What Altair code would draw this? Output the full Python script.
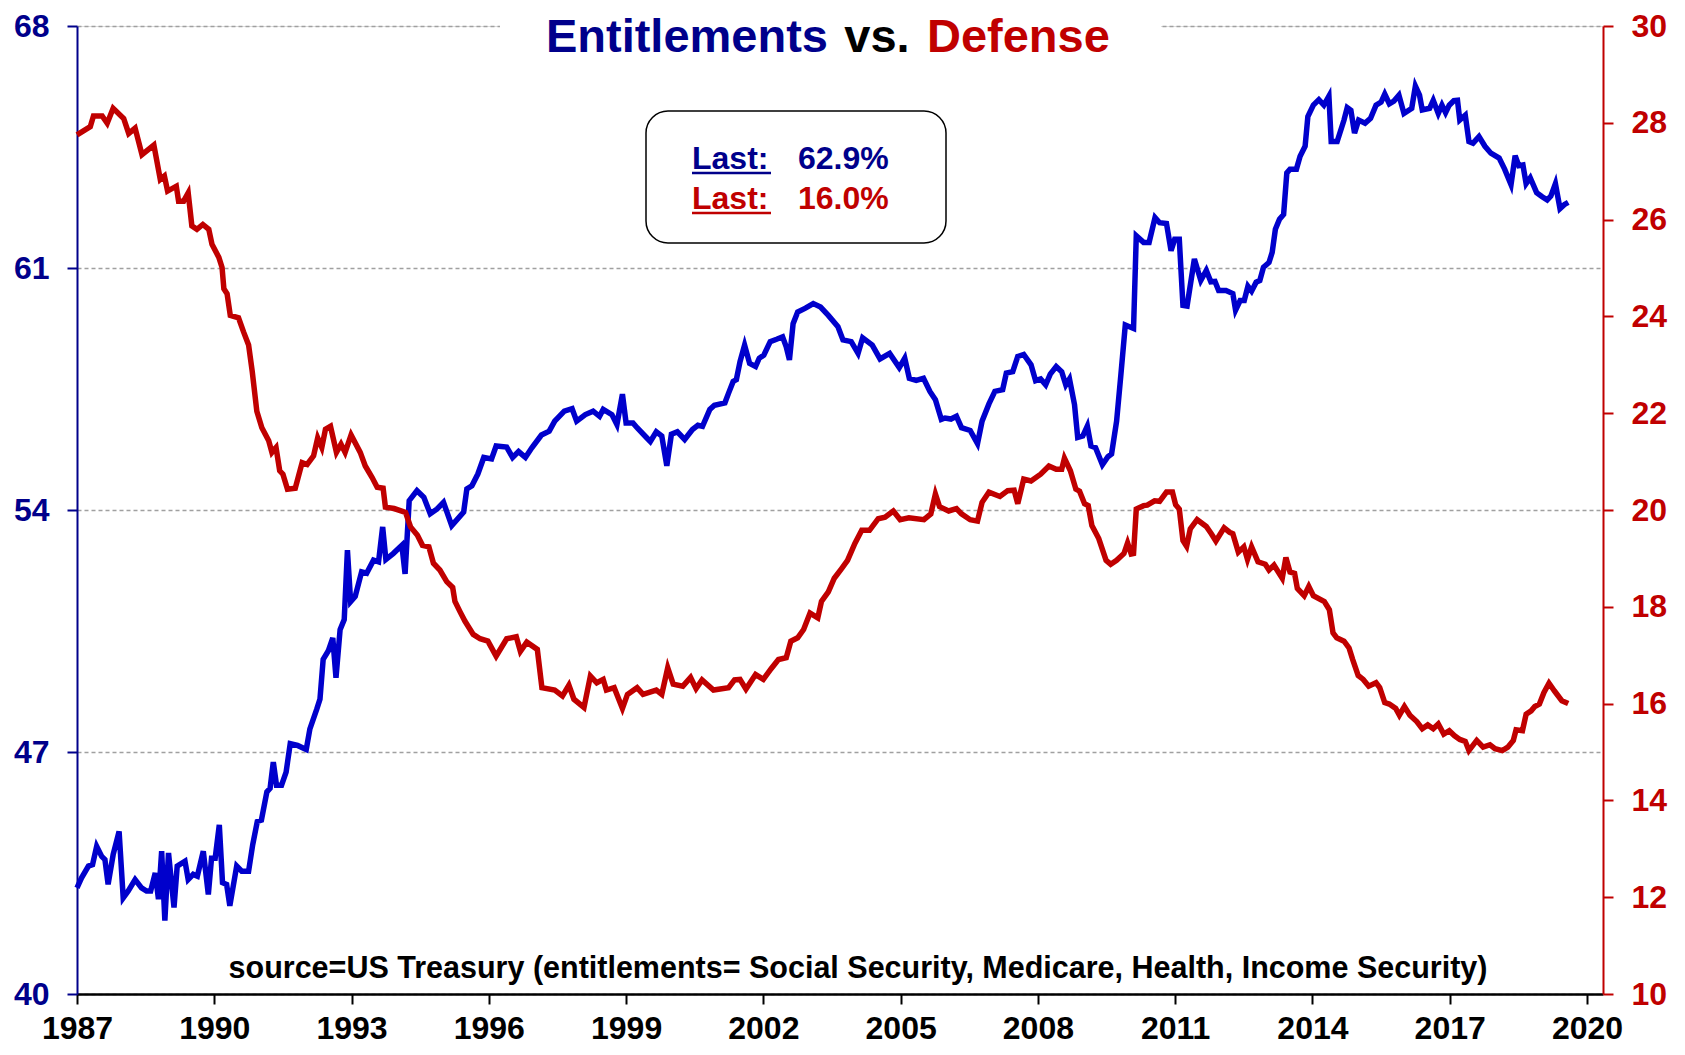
import altair as alt
import pandas as pd

# ---------------- data ----------------
ent_year = [1987.00, 1987.10, 1987.25, 1987.34, 1987.43, 1987.54, 1987.61, 1987.68, 1987.79, 1987.92,
            1988.01, 1988.12, 1988.27, 1988.41, 1988.52, 1988.61, 1988.71, 1988.78, 1988.85, 1988.92,
            1989.00, 1989.12, 1989.19, 1989.36, 1989.43, 1989.54, 1989.63, 1989.76, 1989.87, 1989.94,
            1990.02, 1990.11, 1990.18, 1990.27, 1990.34, 1990.49, 1990.60, 1990.75, 1990.84, 1990.94,
            1991.03, 1991.15, 1991.22, 1991.29, 1991.36, 1991.47, 1991.57, 1991.66, 1991.82, 1992.01,
            1992.09, 1992.24, 1992.31, 1992.38, 1992.49, 1992.59, 1992.66, 1992.75, 1992.84, 1992.91,
            1992.98, 1993.08, 1993.22, 1993.33, 1993.48, 1993.59, 1993.68, 1993.75, 1993.91, 1994.10,
            1994.17, 1994.26, 1994.43, 1994.58, 1994.72, 1994.87, 1995.01, 1995.19, 1995.45, 1995.52,
            1995.63, 1995.76, 1995.89, 1996.06, 1996.16, 1996.39, 1996.52, 1996.65, 1996.80, 1996.94,
            1997.15, 1997.32, 1997.44, 1997.65, 1997.82, 1997.92, 1998.11, 1998.28, 1998.42, 1998.50,
            1998.69, 1998.80, 1998.92, 1999.00, 1999.15, 1999.24, 1999.45, 1999.53, 1999.66, 1999.78,
            1999.89, 1999.99, 2000.12, 2000.28, 2000.45, 2000.57, 2000.67, 2000.83, 2000.93, 2001.16,
            2001.24, 2001.34, 2001.41, 2001.49, 2001.59, 2001.70, 2001.83, 2001.91, 2002.01, 2002.15,
            2002.29, 2002.42, 2002.50, 2002.57, 2002.65, 2002.75, 2002.92, 2003.09, 2003.25, 2003.42,
            2003.63, 2003.74, 2003.92, 2004.07, 2004.17, 2004.38, 2004.55, 2004.76, 2004.97, 2005.09,
            2005.19, 2005.34, 2005.50, 2005.64, 2005.76, 2005.89, 2005.97, 2006.10, 2006.22, 2006.33,
            2006.52, 2006.68, 2006.78, 2006.93, 2007.06, 2007.23, 2007.31, 2007.45, 2007.56, 2007.69,
            2007.85, 2007.95, 2008.06, 2008.17, 2008.27, 2008.40, 2008.52, 2008.61, 2008.69, 2008.80,
            2008.87, 2008.98, 2009.08, 2009.16, 2009.26, 2009.41, 2009.53, 2009.61, 2009.72, 2009.81,
            2009.91, 2010.09, 2010.15, 2010.31, 2010.43, 2010.56, 2010.66, 2010.81, 2010.91, 2010.99,
            2011.09, 2011.17, 2011.26, 2011.42, 2011.56, 2011.68, 2011.78, 2011.87, 2011.95, 2012.11,
            2012.26, 2012.32, 2012.42, 2012.51, 2012.59, 2012.67, 2012.77, 2012.85, 2012.93, 2013.05,
            2013.12, 2013.19, 2013.28, 2013.37, 2013.44, 2013.51, 2013.65, 2013.73, 2013.84, 2013.90,
            2014.02, 2014.14, 2014.25, 2014.36, 2014.41, 2014.54, 2014.69, 2014.76, 2014.84, 2014.92,
            2015.01, 2015.15, 2015.27, 2015.39, 2015.50, 2015.58, 2015.68, 2015.78, 2015.89, 2016.00,
            2016.17, 2016.25, 2016.34, 2016.40, 2016.56, 2016.64, 2016.75, 2016.83, 2016.91, 2016.99,
            2017.09, 2017.17, 2017.22, 2017.34, 2017.42, 2017.51, 2017.64, 2017.77, 2017.90, 2018.08,
            2018.20, 2018.34, 2018.43, 2018.51, 2018.60, 2018.67, 2018.76, 2018.90, 2019.02, 2019.13,
            2019.21, 2019.31, 2019.41, 2019.51, 2019.59]
ent_val = [43.07, 43.36, 43.70, 43.74, 44.27, 43.98, 43.89, 43.17, 44.03, 44.70,
           42.78, 42.98, 43.31, 43.07, 42.98, 42.98, 43.50, 42.74, 44.13, 42.12,
           44.08, 42.50, 43.70, 43.84, 43.31, 43.46, 43.41, 44.13, 42.88, 43.93,
           43.93, 44.89, 43.22, 43.17, 42.55, 43.70, 43.55, 43.55, 44.32, 44.99,
           45.03, 45.85, 45.95, 46.71, 46.04, 46.04, 46.42, 47.24, 47.19, 47.07,
           47.67, 48.24, 48.53, 49.68, 49.92, 50.30, 49.15, 50.54, 50.83, 52.84,
           51.35, 51.50, 52.21, 52.17, 52.55, 52.50, 53.51, 52.57, 52.74, 52.98,
           52.15, 54.27, 54.56, 54.37, 53.89, 54.03, 54.22, 53.55, 53.94, 54.61,
           54.70, 55.04, 55.52, 55.48, 55.85, 55.82, 55.52, 55.69, 55.52, 55.80,
           56.17, 56.28, 56.57, 56.86, 56.93, 56.57, 56.76, 56.86, 56.71, 56.91,
           56.76, 56.47, 57.35, 56.52, 56.52, 56.38, 56.09, 55.98, 56.26, 56.14,
           55.28, 56.19, 56.26, 56.04, 56.33, 56.45, 56.42, 56.91, 57.03, 57.10,
           57.38, 57.72, 57.77, 58.29, 58.77, 58.24, 58.15, 58.39, 58.48, 58.87,
           58.94, 59.01, 58.72, 58.34, 59.39, 59.73, 59.84, 59.97, 59.87, 59.63,
           59.30, 58.92, 58.87, 58.53, 58.98, 58.77, 58.37, 58.53, 58.12, 58.39,
           57.81, 57.75, 57.81, 57.43, 57.19, 56.62, 56.66, 56.63, 56.71, 56.38,
           56.30, 55.92, 56.57, 57.07, 57.43, 57.48, 57.96, 58.00, 58.44, 58.50,
           58.20, 57.74, 57.79, 57.62, 57.93, 58.15, 58.00, 57.62, 57.79, 57.05,
           56.10, 56.14, 56.43, 55.85, 55.80, 55.31, 55.54, 55.62, 56.57, 57.86,
           59.35, 59.25, 61.93, 61.74, 61.74, 62.46, 62.31, 62.29, 61.50, 61.83,
           61.83, 59.92, 59.90, 61.26, 60.64, 60.93, 60.60, 60.61, 60.35, 60.35,
           60.26, 59.78, 60.06, 60.06, 60.47, 60.33, 60.59, 60.64, 61.02, 61.16,
           61.45, 62.12, 62.41, 62.55, 63.75, 63.86, 63.86, 64.23, 64.52, 65.38,
           65.71, 65.87, 65.71, 65.97, 64.66, 64.66, 65.28, 65.64, 65.56, 64.90,
           65.28, 65.19, 65.33, 65.71, 65.80, 66.03, 65.75, 65.83, 66.00, 65.47,
           65.62, 66.26, 66.00, 65.57, 65.62, 65.85, 65.47, 65.71, 65.49, 65.71,
           65.84, 65.85, 65.28, 65.42, 64.66, 64.61, 64.80, 64.52, 64.32, 64.18,
           63.86, 63.41, 64.25, 63.96, 63.98, 63.44, 63.61, 63.18, 63.06, 62.97,
           63.08, 63.44, 62.72, 62.84, 62.90]

def_year = [1987.00, 1987.29, 1987.36, 1987.55, 1987.66, 1987.79, 1988.02, 1988.13, 1988.27, 1988.42,
            1988.68, 1988.82, 1988.91, 1988.98, 1989.17, 1989.22, 1989.33, 1989.43, 1989.51, 1989.62,
            1989.75, 1989.88, 1989.95, 1990.10, 1990.17, 1990.21, 1990.28, 1990.35, 1990.53, 1990.64,
            1990.75, 1990.83, 1990.93, 1991.04, 1991.19, 1991.26, 1991.35, 1991.43, 1991.50, 1991.60,
            1991.77, 1991.92, 1992.03, 1992.17, 1992.26, 1992.35, 1992.43, 1992.54, 1992.67, 1992.77,
            1992.86, 1992.99, 1993.19, 1993.30, 1993.45, 1993.56, 1993.69, 1993.74, 1993.93, 1994.18,
            1994.29, 1994.44, 1994.55, 1994.69, 1994.79, 1994.93, 1995.08, 1995.21, 1995.26, 1995.37,
            1995.48, 1995.66, 1995.81, 1995.98, 1996.16, 1996.39, 1996.60, 1996.69, 1996.83, 1997.06,
            1997.16, 1997.44, 1997.61, 1997.75, 1997.86, 1998.08, 1998.22, 1998.36, 1998.50, 1998.57,
            1998.74, 1998.92, 1999.03, 1999.24, 1999.37, 1999.66, 1999.78, 1999.91, 2000.03, 2000.24,
            2000.41, 2000.53, 2000.66, 2000.91, 2001.24, 2001.37, 2001.49, 2001.62, 2001.83, 2002.00,
            2002.17, 2002.33, 2002.50, 2002.60, 2002.75, 2002.88, 2003.02, 2003.19, 2003.27, 2003.42,
            2003.55, 2003.71, 2003.84, 2004.00, 2004.15, 2004.32, 2004.51, 2004.66, 2004.84, 2004.99,
            2005.18, 2005.51, 2005.66, 2005.76, 2005.85, 2006.05, 2006.22, 2006.33, 2006.52, 2006.68,
            2006.78, 2006.93, 2007.17, 2007.34, 2007.48, 2007.56, 2007.69, 2007.85, 2008.06, 2008.24,
            2008.40, 2008.52, 2008.58, 2008.71, 2008.83, 2008.91, 2009.02, 2009.10, 2009.18, 2009.33,
            2009.49, 2009.59, 2009.72, 2009.88, 2009.96, 2010.04, 2010.09, 2010.15, 2010.31, 2010.39,
            2010.55, 2010.66, 2010.81, 2010.94, 2011.01, 2011.09, 2011.17, 2011.25, 2011.33, 2011.48,
            2011.68, 2011.79, 2011.89, 2012.07, 2012.19, 2012.26, 2012.38, 2012.50, 2012.58, 2012.67,
            2012.81, 2012.97, 2013.05, 2013.16, 2013.24, 2013.34, 2013.42, 2013.51, 2013.61, 2013.67,
            2013.82, 2013.92, 2014.02, 2014.26, 2014.37, 2014.45, 2014.53, 2014.69, 2014.80, 2014.88,
            2015.00, 2015.11, 2015.23, 2015.39, 2015.47, 2015.58, 2015.68, 2015.82, 2015.90, 2016.01,
            2016.13, 2016.28, 2016.40, 2016.52, 2016.64, 2016.75, 2016.87, 2016.99, 2017.10, 2017.22,
            2017.34, 2017.42, 2017.59, 2017.73, 2017.88, 2017.99, 2018.15, 2018.27, 2018.39, 2018.45,
            2018.59, 2018.67, 2018.78, 2018.86, 2018.96, 2019.06, 2019.17, 2019.29, 2019.45, 2019.59]
def_val = [27.75, 27.92, 28.14, 28.14, 27.99, 28.30, 28.09, 27.78, 27.89, 27.34,
           27.54, 26.83, 26.90, 26.59, 26.69, 26.38, 26.38, 26.55, 25.87, 25.80,
           25.90, 25.80, 25.49, 25.22, 25.01, 24.57, 24.47, 24.02, 23.97, 23.68,
           23.41, 22.86, 22.04, 21.70, 21.43, 21.19, 21.29, 20.81, 20.74, 20.43,
           20.45, 20.98, 20.94, 21.12, 21.49, 21.29, 21.67, 21.73, 21.19, 21.36,
           21.19, 21.55, 21.19, 20.91, 20.67, 20.47, 20.45, 20.06, 20.03, 19.95,
           19.65, 19.48, 19.27, 19.24, 18.90, 18.76, 18.52, 18.40, 18.11, 17.90,
           17.70, 17.43, 17.34, 17.29, 16.98, 17.34, 17.38, 17.08, 17.27, 17.12,
           16.33, 16.28, 16.16, 16.38, 16.09, 15.92, 16.57, 16.43, 16.50, 16.28,
           16.33, 15.90, 16.19, 16.33, 16.19, 16.28, 16.19, 16.74, 16.40, 16.36,
           16.54, 16.31, 16.49, 16.28, 16.33, 16.49, 16.50, 16.30, 16.60, 16.50,
           16.72, 16.91, 16.95, 17.29, 17.36, 17.53, 17.87, 17.77, 18.11, 18.31,
           18.59, 18.79, 18.96, 19.31, 19.58, 19.58, 19.82, 19.85, 19.98, 19.80,
           19.84, 19.80, 19.92, 20.33, 20.07, 19.98, 20.03, 19.92, 19.80, 19.77,
           20.16, 20.37, 20.28, 20.40, 20.41, 20.13, 20.64, 20.60, 20.74, 20.91,
           20.84, 20.84, 21.07, 20.81, 20.43, 20.39, 20.13, 20.09, 19.68, 19.41,
           18.96, 18.88, 18.96, 19.10, 19.32, 19.09, 19.10, 20.02, 20.09, 20.10,
           20.19, 20.18, 20.37, 20.37, 20.11, 20.02, 19.37, 19.25, 19.61, 19.80,
           19.66, 19.51, 19.36, 19.63, 19.54, 19.51, 19.13, 19.24, 18.98, 19.24,
           18.93, 18.88, 18.76, 18.86, 18.74, 18.59, 19.02, 18.72, 18.69, 18.38,
           18.23, 18.42, 18.23, 18.11, 17.94, 17.46, 17.36, 17.29, 17.15, 16.91,
           16.58, 16.50, 16.36, 16.43, 16.33, 16.02, 15.99, 15.90, 15.76, 15.94,
           15.76, 15.63, 15.48, 15.56, 15.48, 15.58, 15.37, 15.44, 15.34, 15.26,
           15.22, 15.03, 15.24, 15.10, 15.15, 15.07, 15.03, 15.10, 15.24, 15.46,
           15.44, 15.78, 15.85, 15.94, 15.99, 16.23, 16.42, 16.26, 16.06, 16.00]

title_parts = ["Entitlements", "vs.", "Defense"]
source_note = "source=US Treasury (entitlements= Social Security, Medicare, Health, Income Security)"
last_label = "Last:"
last_ent = "62.9%"
last_def = "16.0%"
x_ticks = list(range(1987, 2021, 3))
left_ticks = [40, 47, 54, 61, 68]
right_ticks = list(range(10, 31, 2))

# ---------------- styling ----------------
FONT = "Liberation Sans"
NAVY = "#00008B"
BLUE = "#0000CC"
RED = "#C00000"
W, H = 1526, 968

ent = pd.DataFrame({"year": ent_year, "value": ent_val})
dfn = pd.DataFrame({"year": def_year, "value": def_val})
one = pd.DataFrame({"k": [0]})

x_enc = alt.X(
    "year:Q",
    scale=alt.Scale(domain=[1987, 2020.35], nice=False, zero=False),
    axis=alt.Axis(values=x_ticks, format="d", title=None, grid=False,
                  labelFont=FONT, labelFontSize=32, labelFontWeight="bold", labelColor="black",
                  labelFlush=False, labelOverlap=False, labelPadding=9,
                  tickColor="black", tickSize=10, tickWidth=2,
                  domainColor="black", domainWidth=2.5),
)

blue = alt.Chart(ent).mark_line(color=BLUE, strokeWidth=5.5).encode(
    x=x_enc,
    y=alt.Y("value:Q",
            scale=alt.Scale(domain=[40, 68], nice=False, zero=False),
            axis=alt.Axis(orient="left", values=left_ticks, title=None,
                          labelFont=FONT, labelFontSize=32, labelFontWeight="bold", labelColor=NAVY,
                          labelPadding=18, tickColor=NAVY, tickSize=10, tickWidth=2,
                          domainColor=NAVY, domainWidth=2,
                          grid=True, gridColor="#A0A0A0", gridDash=[4, 3], gridWidth=1.3)),
)

red = alt.Chart(dfn).mark_line(color=RED, strokeWidth=5.5).encode(
    x=x_enc,
    y=alt.Y("value:Q",
            scale=alt.Scale(domain=[10, 30], nice=False, zero=False),
            axis=alt.Axis(orient="right", values=right_ticks, title=None, grid=False,
                          labelFont=FONT, labelFontSize=32, labelFontWeight="bold", labelColor=RED,
                          labelPadding=18, tickColor=RED, tickSize=10, tickWidth=2,
                          domainColor=RED, domainWidth=2)),
)

title_bg = alt.Chart(one).mark_rect(fill="white").encode(
    x=alt.value(423), x2=alt.value(1084), y=alt.value(-14), y2=alt.value(14))

def txt(s, x, y, color, size, align="left"):
    return alt.Chart(one).mark_text(
        text=s, font=FONT, fontSize=size, fontWeight="bold", color=color,
        align=align, baseline="alphabetic").encode(x=alt.value(x), y=alt.value(y))

t1 = txt(title_parts[0], 751, 26, NAVY, 47, "right")
t2 = txt(title_parts[1], 800, 26, "black", 47, "center")
t3 = txt(title_parts[2], 850, 26, RED, 47, "left")

box = alt.Chart(one).mark_rect(fill="white", stroke="black", strokeWidth=1.5, cornerRadius=22).encode(
    x=alt.value(569), x2=alt.value(869), y=alt.value(85), y2=alt.value(217))

l1 = txt(last_label, 615, 143, NAVY, 32)
v1 = txt(last_ent, 721, 143, NAVY, 32)
l2 = txt(last_label, 615, 183, RED, 32)
v2 = txt(last_def, 721, 183, RED, 32)
u1 = alt.Chart(one).mark_rule(color=NAVY, strokeWidth=2.5).encode(
    x=alt.value(615), x2=alt.value(694), y=alt.value(147))
u2 = alt.Chart(one).mark_rule(color=RED, strokeWidth=2.5).encode(
    x=alt.value(615), x2=alt.value(694), y=alt.value(187))

src = txt(source_note, 781, 952, "black", 30.5, "center")

chart = alt.layer(
    blue, red, title_bg, t1, t2, t3, box, l1, v1, l2, v2, u1, u2, src
).resolve_scale(y="independent").properties(
    width=W, height=H,
    padding={"left": 69, "top": 18, "right": 66, "bottom": 53},
    autosize=alt.AutoSizeParams(type="none"),
).configure_view(stroke=None).configure(background="white")

chart.save("out.html", embed_options={"renderer": "svg", "actions": False})
